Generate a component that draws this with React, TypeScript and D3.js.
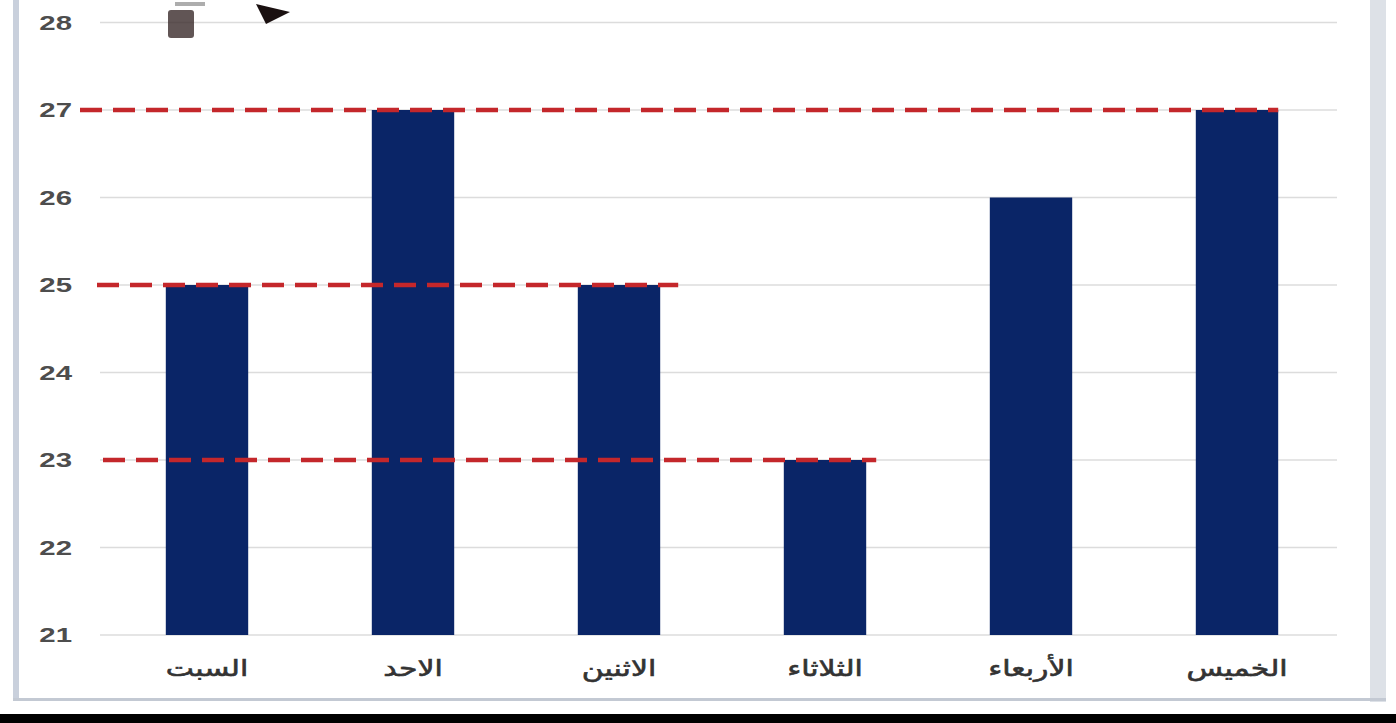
import React from "react";
import * as d3 from "d3";

const categories: string[] = ["السبت", "الاحد", "الاثنين", "الثلاثاء", "الأربعاء", "الخميس"];
const values: number[] = [25, 27, 25, 23, 26, 27];
const yTicks: number[] = [21, 22, 23, 24, 25, 26, 27, 28];
const refValues: number[] = [27, 25, 23];
const refUntil: string[] = ["الخميس", "الاثنين", "الثلاثاء"];

const W = 1396;
const H = 723;

export default function App() {
  const x = d3.scaleBand<string>().domain(categories).range([104, 1340]).paddingInner(0.6).paddingOuter(0.3);
  const y = d3.scaleLinear().domain([21, 28]).range([635, 22.5]);
  const refStart = [80, 97, 103];
  const refOverhang = [0, 18, 10];

  return (
    <svg width={W} height={H} style={{ position: "absolute", left: 0, top: 0, display: "block", background: "#fff" }}>
      <rect x={0} y={0} width={W} height={H} fill="#ffffff" />
      {/* frame */}
      <rect x={13} y={0} width={6} height={700} fill="#c9d0dc" />
      <rect x={1370} y={0} width={16} height={702} fill="#dde1e7" />
      <rect x={13} y={698} width={1373} height={3} fill="#c3c9d3" />
      <rect x={0} y={714} width={W} height={9} fill="#000" />
      {/* gridlines */}
      {yTicks.map((t) => (
        <line key={"g" + t} x1={100} x2={1337} y1={y(t)} y2={y(t)} stroke="#dcdcdc" strokeWidth={1.5} />
      ))}
      {/* y tick labels */}
      {yTicks.map((t) => (
        <text
          key={"t" + t}
          transform={`translate(72,${y(t)}) scale(1.4,1)`}
          dy="0.35em"
          textAnchor="end"
          fontFamily="Liberation Sans, Arial, sans-serif"
          fontWeight="bold"
          fontSize={21}
          fill="#4d4d4d"
        >
          {t}
        </text>
      ))}
      {/* bars */}
      {categories.map((c, i) => (
        <rect key={"b" + c} x={x(c)} y={y(values[i])} width={x.bandwidth()} height={y(21) - y(values[i])} fill="#0a2567" />
      ))}
      {/* reference lines */}
      {refValues.map((v, i) => (
        <line
          key={"r" + i}
          x1={refStart[i]}
          x2={(x(refUntil[i]) as number) + x.bandwidth() + refOverhang[i]}
          y1={y(v)}
          y2={y(v)}
          stroke="#c4272b"
          strokeWidth={4.5}
          strokeDasharray="22 11"
        />
      ))}
      {/* category labels */}
      {categories.map((c) => (
        <text
          key={"c" + c}
          transform={`translate(${(x(c) as number) + x.bandwidth() / 2},668) scale(1.3,1)`}
          dy="0.35em"
          textAnchor="middle"
          direction="rtl"
          fontFamily="DejaVu Sans, sans-serif"
          fontSize={23}
          fill="#333"
          stroke="#333"
          strokeWidth={0.6}
        >
          {c}
        </text>
      ))}
      {/* small icon artifacts at top */}
      <rect x={168} y={10} width={26} height={28} rx={3} fill="#3a2a2a" opacity={0.8} />
      <rect x={175} y={2} width={30} height={4} fill="#777" opacity={0.6} />
      <path d="M256,4 L290,12 L266,24 Z" fill="#1a1010" />
    </svg>
  );
}
